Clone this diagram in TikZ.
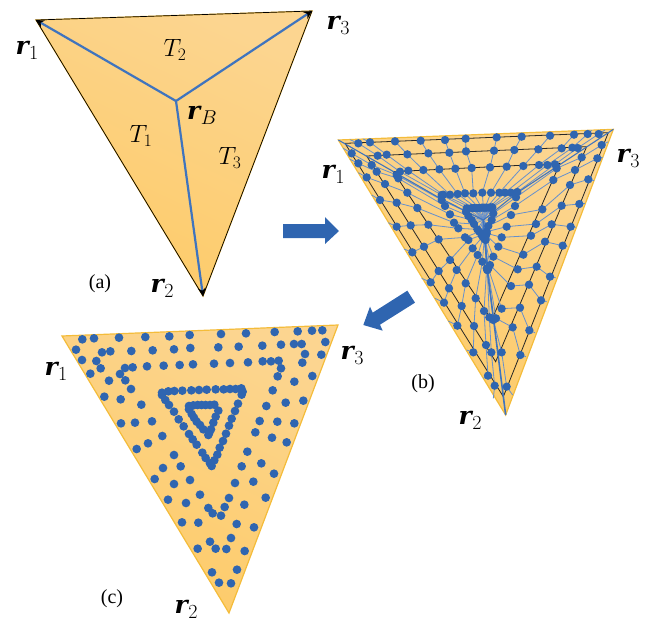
\RequirePackage{fix-cm}
\documentclass[tikz,border=0pt]{standalone}
\usepackage{amsmath}
\usepackage{fontspec}
\newfontfamily\captfont{Liberation Serif}
\newfontfamily\rfont{DejaVu Serif}
\usetikzlibrary{arrows.meta}
\definecolor{fillA}{HTML}{FCD590}
\definecolor{fillB}{HTML}{FDCB68}
\definecolor{gold}{HTML}{F4BC3A}
\definecolor{bluedot}{HTML}{2F65B0}
\definecolor{blueline}{HTML}{3F74BE}
\definecolor{spokeblue}{HTML}{6690CC}
\newcommand\rv[1]{{\rfont\bfseries\itshape r}\kern0.5pt\raisebox{-5pt}{\fontsize{20}{22}\selectfont$#1$}}
\tikzset{
  sheet/.style={draw=gold,line width=1.2pt,top color=fillA,bottom color=fillB,shading angle=-25},
  rlab/.style={inner sep=0pt,font=\fontsize{25}{28}\selectfont},
  tlab/.style={inner sep=0pt,font=\fontsize{25}{28}\selectfont},
  capt/.style={inner sep=0pt,font=\captfont\fontsize{20}{22}\selectfont},
  mainarm/.style={blueline,line width=2.2pt,-{Stealth[black,length=8pt,width=8pt]}},
  spoke/.style={spokeblue,line width=0.8pt},
  heavy/.style={blueline,line width=1.1pt},
  ring/.style={black!85,line width=0.8pt},
  bigarrow/.style={fill=bluedot,draw=none}
}
\newcommand\lineS[7]{\draw[spoke] #1 -- #2 -- #3 -- #4 -- #5 -- #6 -- #7;}
\newcommand\dotS[7]{\foreach \q in {#2,#3,#4,#5,#6}{\fill[bluedot] \q circle (12.5);}}
\newcommand\allspokes{%
% top side
\S{(60,59)}{(85,70)}{(143,107)}{(210,155)}{(335,225)}{(410,265)}{(460,300)}
\S{(100,57)}{(120,67)}{(170,104)}{(235,152)}{(340,224)}{(425,264)}{(460,300)}
\S{(190,54)}{(195,64)}{(232,103)}{(280,150)}{(360,224)}{(432,264)}{(460,300)}
\S{(270,51)}{(272,62)}{(295,100)}{(328,148)}{(383,222)}{(440,264)}{(460,300)}
\S{(345,48)}{(345,60)}{(358,98)}{(376,146)}{(405,220)}{(447,264)}{(460,300)}
\S{(408,45)}{(407,56)}{(408,94)}{(425,144)}{(430,220)}{(455,263)}{(460,300)}
\S{(500,42)}{(500,52)}{(492,92)}{(480,142)}{(457,218)}{(460,263)}{(460,300)}
\S{(580,39)}{(575,50)}{(553,90)}{(530,140)}{(483,218)}{(465,263)}{(460,300)}
\S{(665,36)}{(660,47)}{(625,88)}{(580,138)}{(508,218)}{(470,263)}{(460,300)}
\S{(740,33)}{(732,44)}{(695,85)}{(627,135)}{(525,218)}{(477,263)}{(460,300)}
\S{(785,31)}{(773,42)}{(727,83)}{(652,135)}{(543,218)}{(482,262)}{(460,300)}
\S{(825,30)}{(806,42)}{(743,84)}{(675,133)}{(562,216)}{(487,262)}{(460,300)}
% left side
\S{(40,85)}{(65,100)}{(125,135)}{(200,165)}{(335,240)}{(408,275)}{(460,300)}
\S{(60,118)}{(85,130)}{(140,155)}{(205,175)}{(345,258)}{(415,288)}{(460,300)}
\S{(85,158)}{(110,172)}{(165,192)}{(232,218)}{(360,283)}{(425,300)}{(460,300)}
\S{(125,225)}{(150,240)}{(200,248)}{(262,264)}{(372,308)}{(432,312)}{(460,300)}
\S{(175,308)}{(200,320)}{(242,316)}{(295,314)}{(385,325)}{(442,328)}{(460,300)}
\S{(222,387)}{(247,397)}{(282,380)}{(326,358)}{(405,352)}{(448,335)}{(460,300)}
\S{(275,475)}{(302,487)}{(326,453)}{(360,420)}{(415,360)}{(455,345)}{(460,300)}
\S{(315,535)}{(342,548)}{(357,505)}{(380,450)}{(428,385)}{(458,350)}{(460,300)}
\S{(355,603)}{(382,617)}{(395,558)}{(407,490)}{(443,405)}{(460,352)}{(460,300)}
\S{(410,690)}{(430,697)}{(432,618)}{(437,535)}{(457,425)}{(463,355)}{(460,300)}
\S{(460,775)}{(474,767)}{(468,675)}{(462,573)}{(470,445)}{(465,358)}{(460,300)}
\S{(490,835)}{(494,797)}{(484,697)}{(478,592)}{(472,450)}{(467,360)}{(460,300)}
% right side
\S{(835,65)}{(815,75)}{(755,112)}{(680,145)}{(558,232)}{(490,280)}{(460,300)}
\S{(818,112)}{(802,115)}{(735,150)}{(670,180)}{(555,258)}{(485,300)}{(460,300)}
\S{(792,182)}{(775,178)}{(720,195)}{(637,268)}{(543,285)}{(475,318)}{(460,300)}
\S{(765,250)}{(748,252)}{(695,257)}{(618,312)}{(530,320)}{(470,335)}{(460,300)}
\S{(738,322)}{(722,320)}{(665,313)}{(603,347)}{(515,352)}{(470,340)}{(460,300)}
\S{(712,380)}{(698,377)}{(645,365)}{(580,404)}{(505,380)}{(468,345)}{(460,300)}
\S{(677,473)}{(660,470)}{(620,440)}{(563,448)}{(490,410)}{(466,350)}{(460,300)}
\S{(650,545)}{(633,541)}{(597,494)}{(543,498)}{(480,435)}{(465,352)}{(460,300)}
\S{(615,638)}{(598,631)}{(570,563)}{(515,566)}{(475,445)}{(464,354)}{(460,300)}
\S{(588,710)}{(571,705)}{(548,622)}{(498,595)}{(473,447)}{(463,355)}{(460,300)}
\S{(548,825)}{(530,800)}{(515,697)}{(490,600)}{(472,450)}{(463,355)}{(460,300)}
}
\begin{document}
\begin{tikzpicture}[x=1pt,y=-1pt]
\useasboundingbox (0,0) rectangle (651,625);
% ---------- panel (a)
\coordinate (a1) at (36,20);
\coordinate (a2) at (203,296);
\coordinate (a3) at (312,11);
\coordinate (aB) at (176,101);
\draw[sheet] (a1) -- (a3) -- (a2) -- cycle;
\draw[black,line width=0.7pt] (a1) -- (a3) -- (a2) -- cycle;
\draw[mainarm] (aB) -- (a1);
\draw[mainarm] (aB) -- (a2);
\draw[mainarm] (aB) -- (a3);
\node[rlab] (la1) at (27,50) {\rv{1}};
\node[rlab] (la2) at (162,288) {\rv{2}};
\node[rlab] (la3) at (338,25) {\rv{3}};
\node[rlab] (laB) at (202,115) {\rv{B}};
\node[tlab] (t1) at (141,136) {$T_1$};
\node[tlab] (t2) at (175,50) {$T_2$};
\node[tlab] (t3) at (230,158) {$T_3$};
\node[capt] (ca) at (100,284) {(a)};
% ---------- arrows
\fill[bigarrow] (283,224) -- (325,224) -- (325,217) -- (339,231) -- (325,244) -- (325,238) -- (283,238) -- cycle;
\begin{scope}[shift={(330pt,-120pt)},x=0.33333pt,y=-0.33333pt]
\fill[bigarrow] (232,512) -- (255,548) -- (150,614) -- (158,632) -- (100,615) -- (120,560) -- (128,578) -- cycle;
% ---------- panel (b)
\coordinate (b1) at (25,60);
\coordinate (b2) at (527,885);
\coordinate (b3) at (850,28);
\coordinate (bc) at (460,300);
\draw[sheet] (b1) -- (b3) -- (b2) -- cycle;
\draw[ring] (45,70) -- (835,38) -- (520,830) -- cycle;
\draw[ring] (110,108) -- (770,80) -- (497,725) -- cycle;
\draw[ring] (190,155) -- (690,130) -- (485,600) -- cycle;
\let\S\lineS \allspokes
\draw[heavy] (b1) -- (325,232) -- (bc);
\draw[heavy] (b3) -- (562,218) -- (bc);
\draw[heavy,line width=1.6pt] (b2) -- (472,450) -- (bc);
\let\S\dotS \allspokes
\end{scope}
\node[rlab] (lb1) at (333,174) {\rv{1}};
\node[rlab] (lb2) at (470,420) {\rv{2}};
\node[rlab] (lb3) at (628,158) {\rv{3}};
\node[capt] (cb) at (423,384) {(b)};
% ---------- panel (c)
\coordinate (c1) at (62,336);
\coordinate (c2) at (229,613);
\coordinate (c3) at (338,325);
\draw[sheet] (c1) -- (c3) -- (c2) -- cycle;
\begin{scope}[shift={(40pt,-310pt)},x=0.33333pt,y=-0.33333pt]
\foreach \q in {
(127,88),(162,85),(237,83),(316,81),(388,79),(449,75),(543,72),(618,70),(704,66),(773,64),(816,62),(847,61),
(108,119),(186,127),(211,124),(274,123),(338,121),(402,118),(451,114),(535,112),(596,110),(667,107),(723,104),(762,102),(785,102),(856,96),
(126,150),(169,153),(182,175),(151,191),(207,212),(193,260),(242,268),(243,340),(285,338),(336,334),(304,284),(367,378),(324,400),(290,417),
(278,172),(255,174),(240,192),(256,211),(273,237),(321,169),(371,167),(419,165),(459,163),(522,161),(570,159),(624,157),(668,154),(693,154),(716,152),(723,175),(713,199),(698,241),(679,288),(659,333),(646,367),(622,425),(605,469),(585,519),(567,564),(554,591),(543,617),(518,610),(505,594),
(795,132),(844,134),(787,158),(817,198),(763,215),(790,272),(737,278),(712,335),(763,340),(696,383),(740,397),(664,460),(702,491),(640,515),(677,563),(613,584),(642,652),(590,642),(573,684),(614,723),(591,779),(573,820),(537,818),(516,787),(559,717),(527,716),(510,695),(473,716),(475,638),(426,637),(438,579),(384,569),(480,554),(450,510),(402,522),(344,507),(369,474),(422,469),(402,435),
(366,248),(385,244),(403,243),(427,242),(454,241),(477,240),(500,239),(527,238),(551,238),(570,237),(587,237),(604,235),(608,245),
(366,255),(376,270),(387,285),(402,305),(416,328),(431,349),(447,372),(458,388),(470,404),(487,428),(497,444),(510,460),(515,468),
(605,254),(594,281),(585,303),(575,326),(567,347),(558,371),(549,393),(539,413),(532,434),(523,451),
(447,288),(460,286),(473,285),(485,285),(497,285),(510,285),(523,284),(447,298),(455,312),(462,323),(470,335),(480,345),(490,358),(505,375),
(535,302),(527,320),(520,338),(513,358),(508,368)
}{\fill[bluedot] \q circle (13);}
\end{scope}
\node[rlab] (lc1) at (56,371) {\rv{1}};
\node[rlab] (lc2) at (186,609) {\rv{2}};
\node[rlab] (lc3) at (352,355) {\rv{3}};
\node[capt] (cc) at (112,599) {(c)};
\end{tikzpicture}
\end{document}
